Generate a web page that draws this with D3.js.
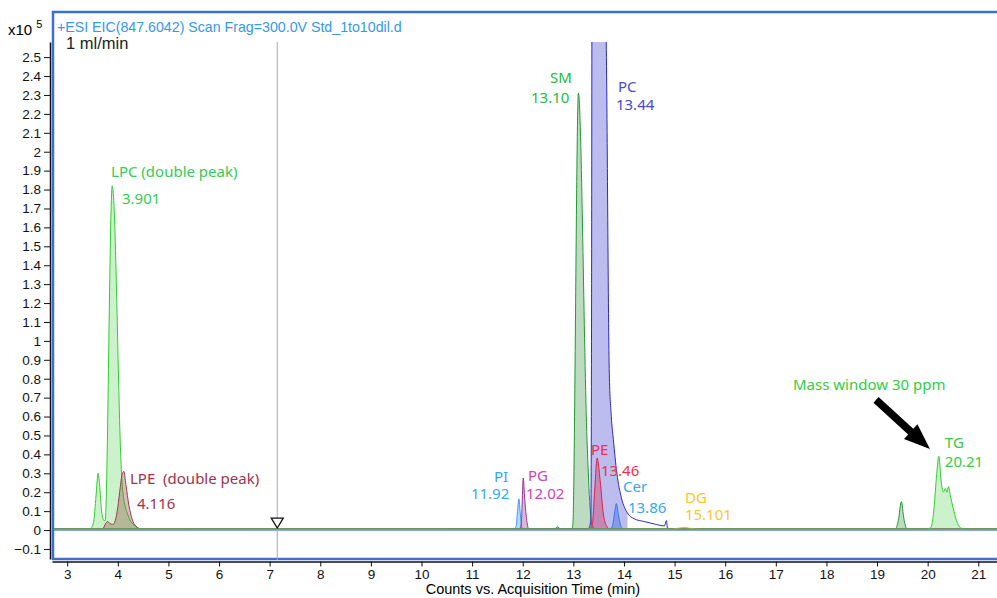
<!DOCTYPE html>
<html>
<head>
<meta charset="utf-8">
<script src="https://cdn.jsdelivr.net/npm/d3@7"></script>
<style>
  body { margin: 0; background: #fff; }
  .axis text { font-family: "Liberation Sans", Arial, sans-serif; font-size: 13.5px; fill: #111; }
  .axis path, .axis line { stroke: #111; }
  .lbl { font-family: "Noto Sans", "Open Sans", sans-serif; font-size: 15px; }
</style>
</head>
<body>
<script>
//////////////// Data ////////////////////
// retention time (min), counts (x10^5)
var lpcTrace = [[2.7,0.005],[3.45,0.005],[3.52,0.04],[3.57,0.18],[3.61,0.30],[3.64,0.24],[3.68,0.10],[3.73,0.05],[3.75,0.05],[3.89,1.82],[3.91,1.78],[4.07,0.32],[4.1,0.2],[4.2,0.08],[4.35,0.02],[4.5,0.005],[21.37,0.005]];
var lpeTrace = [[2.7,0.005],[3.7,0.005],[3.76,0.035],[3.80,0.045],[3.84,0.035],[3.9,0.03],[3.95,0.05],[4.0,0.12],[4.05,0.23],[4.09,0.30],[4.12,0.31],[4.16,0.24],[4.22,0.13],[4.28,0.06],[4.36,0.02],[4.46,0.005],[21.37,0.005]];
var piTrace  = [[2.7,0.005],[11.82,0.005],[11.87,0.02],[11.9,0.11],[11.925,0.165],[11.95,0.09],[11.98,0.015],[12.03,0.005],[21.37,0.005]];
var pgTrace  = [[2.7,0.005],[11.93,0.005],[11.97,0.03],[11.995,0.19],[12.01,0.275],[12.04,0.16],[12.08,0.05],[12.12,0.005],[21.37,0.005]];
var smTrace  = [[2.7,0.005],[12.62,0.005],[12.69,0.017],[12.75,0.005],[12.97,0.005],[12.99,0.03],[13.10,2.31],[13.27,0.48],[13.33,0.12],[13.37,0.02],[13.45,0.005],
                [19.36,0.005],[19.42,0.05],[19.48,0.15],[19.53,0.06],[19.58,0.01],[19.65,0.005],[21.37,0.005]];
var pcTrace  = [[2.7,0.005],[13.3,0.008],[13.345,0.05],[13.36,1.2],[13.37,3.2],[13.42,4.6],[13.5,4.2],[13.6,3.2],[13.65,2.58],[13.71,0.83],[13.75,0.6],[13.79,0.48],[13.86,0.3],[13.95,0.17],[14.07,0.09],[14.2,0.06],[14.4,0.045],[14.6,0.032],[14.8,0.022],[14.84,0.05],[14.86,0.01],[15.0,0.005],[21.37,0.005]];
var peTrace  = [[2.7,0.005],[13.3,0.005],[13.37,0.02],[13.42,0.2],[13.47,0.38],[13.53,0.26],[13.59,0.09],[13.66,0.02],[13.72,0.005],[21.37,0.005]];
var cerTrace = [[2.7,0.005],[13.72,0.005],[13.77,0.02],[13.82,0.1],[13.85,0.14],[13.89,0.08],[13.94,0.02],[13.99,0.005],[21.37,0.005]];
var dgTrace  = [[2.7,0.005],[14.95,0.005],[15.1,0.011],[15.2,0.013],[15.3,0.009],[15.5,0.005],[21.37,0.005]];
var tgTrace  = [[2.7,0.005],[19.95,0.005],[20.06,0.012],[20.12,0.1],[20.18,0.3],[20.22,0.39],[20.27,0.25],[20.31,0.2],[20.35,0.22],[20.38,0.2],[20.41,0.23],[20.45,0.18],[20.5,0.12],[20.57,0.05],[20.65,0.012],[20.75,0.005],[21.37,0.005]];

var xTicks = [3,4,5,6,7,8,9,10,11,12,13,14,15,16,17,18,19,20,21];
var yTicks = [-0.1,0,0.1,0.2,0.3,0.4,0.5,0.6,0.7,0.8,0.9,1,1.1,1.2,1.3,1.4,1.5,1.6,1.7,1.8,1.9,2,2.1,2.2,2.3,2.4,2.5];

var peakLabels = [
  {text: "LPC (double peak)", t: 3.866, v: 1.865, c: "#33cc55"},
  {text: "3.901",  t: 4.083, v: 1.725, c: "#33cc55"},
  {text: "LPE  (double peak)", t: 4.241, v: 0.245, c: "#a3304c"},
  {text: "4.116",  t: 4.379, v: 0.11, c: "#a3304c"},
  {text: "SM",     t: 12.538, v: 2.365, c: "#22bb44"},
  {text: "13.10",  t: 12.163, v: 2.258, c: "#22bb44"},
  {text: "PC",     t: 13.88, v: 2.315, c: "#4a4acc"},
  {text: "13.44",  t: 13.842, v: 2.222, c: "#4a4acc"},
  {text: "PI",     t: 11.43, v: 0.256, c: "#33aaee"},
  {text: "11.92",  t: 10.977, v: 0.165, c: "#33aaee"},
  {text: "PG",     t: 12.103, v: 0.26, c: "#cc44bb"},
  {text: "12.02",  t: 12.064, v: 0.165, c: "#cc44bb"},
  {text: "PE",     t: 13.348, v: 0.398, c: "#ee3344"},
  {text: "13.46",  t: 13.545, v: 0.287, c: "#ee3344"},
  {text: "Cer",    t: 13.98, v: 0.2, c: "#33aaee"},
  {text: "13.86",  t: 14.08, v: 0.09, c: "#33aaee"},
  {text: "DG",     t: 15.205, v: 0.145, c: "#ffc428"},
  {text: "15.101", t: 15.205, v: 0.053, c: "#ffc428"},
  {text: "Mass window 30 ppm", t: 17.34, v: 0.742, c: "#33cc44"},
  {text: "TG",     t: 20.34, v: 0.435, c: "#33cc44"},
  {text: "20.21",  t: 20.34, v: 0.333, c: "#33cc44"}
];

//////////////// Scales ////////////////////
var W = 997, H = 598;
var x = d3.scaleLinear().domain([2.7, 21.37]).range([52, 997]);
var y = d3.scaleLinear().domain([-0.153, 2.58]).range([559, 42]);

var svg = d3.select("body").append("svg")
  .attr("width", W).attr("height", H);

svg.append("clipPath").attr("id", "plotclip")
  .append("rect").attr("x", 53).attr("y", 42).attr("width", 944).attr("height", 516);

//////////////// Traces ////////////////////
var traces = [
  {d: lpcTrace, stroke: "#33cc33", fill: "#33cc33", op: 0.25},
  {d: lpeTrace, stroke: "#9c3a4a", fill: "#8a4a3a", op: 0.35},
  {d: piTrace,  stroke: "#3399ff", fill: "#3399ff", op: 0.35},
  {d: pgTrace,  stroke: "#993399", fill: "#993399", op: 0.35},
  {d: smTrace,  stroke: "#229933", fill: "#228833", op: 0.3},
  {d: pcTrace,  stroke: "#2a2ac8", fill: "#3333cc", op: 0.33, fillEnd: 14.15},
  {d: peTrace,  stroke: "#dd2244", fill: "#dd2244", op: 0.35},
  {d: cerTrace, stroke: "#3377ee", fill: "#3366ee", op: 0.4},
  {d: dgTrace,  stroke: "#ff9922", fill: "#ff9922", op: 0.3},
  {d: tgTrace,  stroke: "#33cc33", fill: "#33cc33", op: 0.25}
];

var plot = svg.append("g").attr("clip-path", "url(#plotclip)");

// zero line
plot.append("line")
  .attr("x1", x(2.7)).attr("x2", x(21.37))
  .attr("y1", y(0)).attr("y2", y(0))
  .attr("stroke", "#5b8fd6").attr("stroke-width", 1.5);

var area = d3.area()
  .x(function(d){ return x(d[0]); })
  .y0(y(0))
  .y1(function(d){ return y(d[1]); })
  .curve(d3.curveMonotoneX);
var line = d3.line()
  .x(function(d){ return x(d[0]); })
  .y(function(d){ return y(d[1]); })
  .curve(d3.curveMonotoneX);

traces.forEach(function(tr){
  var fd = tr.fillEnd ? tr.d.filter(function(d){ return d[0] <= tr.fillEnd; }) : tr.d;
  plot.append("path")
    .attr("d", area(fd))
    .attr("fill", tr.fill).attr("fill-opacity", tr.op);
  plot.append("path")
    .attr("d", line(tr.d))
    .attr("fill", "none")
    .attr("stroke", tr.stroke).attr("stroke-width", 1)
    .style("stroke-linejoin", "round");
});

//////////////// Frame & axes ////////////////////
svg.append("rect")
  .attr("x", 53).attr("y", 12).attr("width", 960).attr("height", 547)
  .attr("fill", "none").attr("stroke", "#3a6fd4").attr("stroke-width", 2.5);

svg.append("g").attr("class", "y axis")
  .attr("transform", "translate(50,0)")
  .call(d3.axisLeft(y).tickValues(yTicks).tickSize(6).tickSizeOuter(0)
    .tickFormat(function(d){ return d3.format("")(+d.toFixed(1)); }));

svg.append("g").attr("class", "x axis")
  .attr("transform", "translate(0,561.5)")
  .call(d3.axisBottom(x).tickValues(xTicks).tickSize(5).tickSizeOuter(0));

svg.selectAll(".axis path").attr("stroke-width", 1.5);

svg.append("text")
  .attr("x", x(12.2)).attr("y", 594)
  .attr("text-anchor", "middle")
  .style("font-family", "Liberation Sans, Arial, sans-serif").style("font-size", "14.5px")
  .text("Counts vs. Acquisition Time (min)");

// scale factor
var sc = svg.append("text").attr("x", 8).attr("y", 35)
  .style("font-family", "Liberation Sans, Arial, sans-serif").style("font-size", "15px");
sc.append("tspan").text("x10");
sc.append("tspan").attr("dx", 4).attr("dy", -7).style("font-size", "11px").text("5");

svg.append("text").attr("x", 57).attr("y", 32)
  .style("font-family", "Liberation Sans, Arial, sans-serif").style("font-size", "14.2px")
  .attr("fill", "#3399ee")
  .text("+ESI EIC(847.6042) Scan Frag=300.0V Std_1to10dil.d");

svg.append("text").attr("x", 66).attr("y", 49)
  .style("font-family", "Liberation Sans, Arial, sans-serif").style("font-size", "16.5px")
  .attr("fill", "#222")
  .text("1 ml/min");

//////////////// Cursor ////////////////////
var cursorT = 7.15;
svg.append("line")
  .attr("x1", x(cursorT)).attr("x2", x(cursorT))
  .attr("y1", 42).attr("y2", 560)
  .attr("stroke", "#aaa").attr("stroke-width", 1);
svg.append("path")
  .attr("d", "M" + (x(cursorT) - 6) + "," + (y(0) - 12) + "L" + (x(cursorT) + 6) + "," + (y(0) - 12) + "L" + x(cursorT) + "," + (y(0) - 2) + "Z")
  .attr("fill", "#fff").attr("stroke", "#111").attr("stroke-width", 1.3);

//////////////// Labels ////////////////////
svg.selectAll("text.lbl")
  .data(peakLabels).enter()
  .append("text").attr("class", "lbl")
  .attr("x", function(d){ return x(d.t); })
  .attr("y", function(d){ return y(d.v); })
  .attr("fill", function(d){ return d.c; })
  .style("white-space", "pre")
  .text(function(d){ return d.text; });

// arrow toward TG
var a0 = [x(18.98), y(0.688)], a1 = [x(20.045), y(0.428)];
var dx = a1[0] - a0[0], dy = a1[1] - a0[1], len = Math.sqrt(dx*dx + dy*dy);
var ux = dx/len, uy = dy/len, nx = -uy, ny = ux;
var hl = 26, sw = 3.8, hw = 10;
var bx = a1[0] - ux*hl, by = a1[1] - uy*hl;
var pts = [
  [a0[0] + nx*sw, a0[1] + ny*sw],
  [bx + nx*sw, by + ny*sw],
  [bx + nx*hw, by + ny*hw],
  a1,
  [bx - nx*hw, by - ny*hw],
  [bx - nx*sw, by - ny*sw],
  [a0[0] - nx*sw, a0[1] - ny*sw]
];
svg.append("path")
  .attr("d", "M" + pts.join("L") + "Z")
  .attr("fill", "#000");
</script>
</body>
</html>
